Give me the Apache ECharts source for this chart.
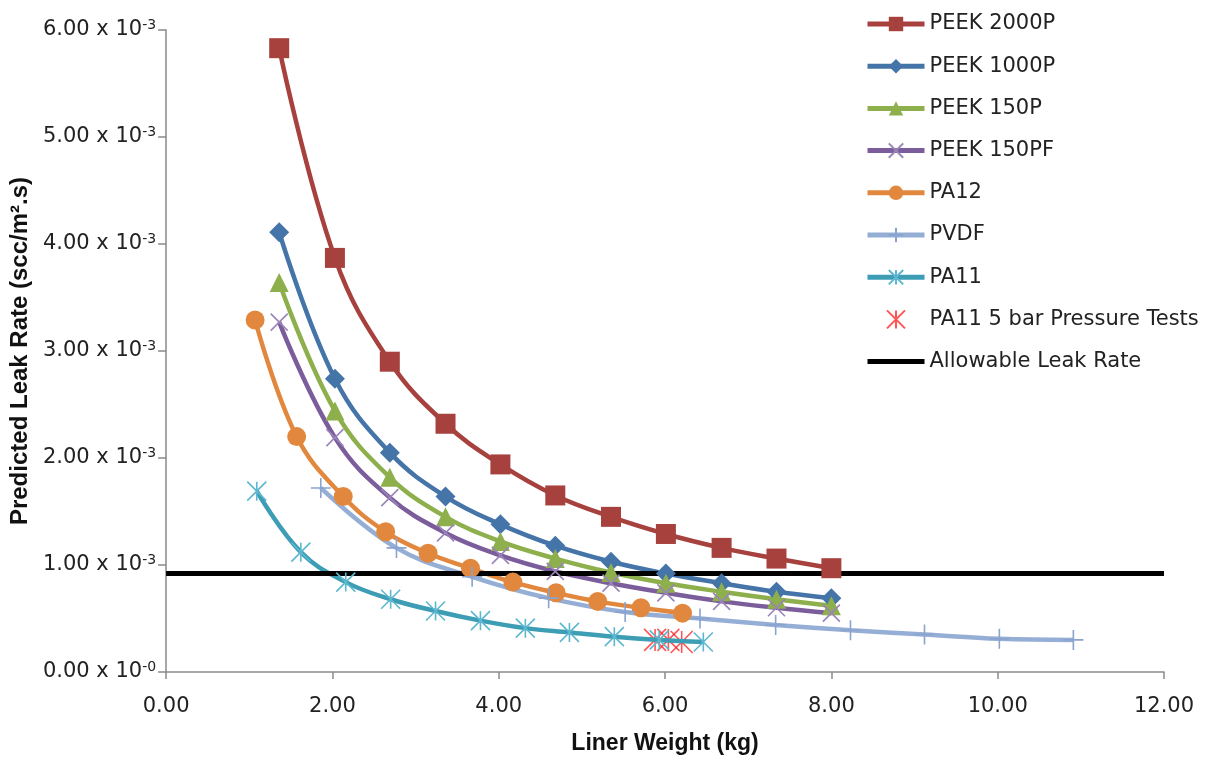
<!DOCTYPE html>
<html>
<head>
<meta charset="utf-8">
<title>Predicted Leak Rate vs Liner Weight</title>
<script src="https://cdn.jsdelivr.net/npm/echarts@6/dist/echarts.min.js"></script>
<style>
  html, body { margin: 0; padding: 0; background: #fff; }
  #chart { width: 1223px; height: 765px; }
</style>
</head>
<body>
<div id="chart"></div>
<script>
// leak rates in units of 10^-3 scc/m2.s, weights in kg
var peekWeight = [1.36, 2.03, 2.69, 3.36, 4.02, 4.68, 5.35, 6.01, 6.68, 7.34, 8.00];
var peek2000p = [5.83, 3.87, 2.90, 2.32, 1.94, 1.65, 1.45, 1.29, 1.16, 1.06, 0.97];
var peek1000p = [4.11, 2.74, 2.05, 1.64, 1.38, 1.18, 1.03, 0.92, 0.83, 0.75, 0.69];
var peek150p  = [3.64, 2.44, 1.82, 1.45, 1.22, 1.06, 0.93, 0.83, 0.75, 0.68, 0.62];
var peek150pf = [3.27, 2.19, 1.63, 1.30, 1.09, 0.94, 0.83, 0.74, 0.66, 0.60, 0.55];

var pa12Weight = [1.07, 1.57, 2.13, 2.64, 3.15, 3.66, 4.17, 4.69, 5.19, 5.71, 6.21];
var pa12 = [3.29, 2.20, 1.64, 1.31, 1.11, 0.97, 0.84, 0.74, 0.66, 0.60, 0.55];

var pvdfWeight = [1.86, 2.77, 3.68, 4.60, 5.52, 6.42, 7.33, 8.23, 9.12, 10.02, 10.91];
var pvdf = [1.72, 1.16, 0.89, 0.69, 0.56, 0.50, 0.44, 0.39, 0.35, 0.31, 0.30];

var pa11Weight = [1.09, 1.62, 2.16, 2.70, 3.24, 3.78, 4.32, 4.85, 5.39, 5.93, 6.46];
var pa11 = [1.69, 1.12, 0.84, 0.68, 0.57, 0.48, 0.41, 0.37, 0.33, 0.30, 0.28];

var testWeight = [5.88, 6.04, 6.20];
var testRate = [0.30, 0.30, 0.28];

var allowWeight = [0, 12];
var allowRate = [0.92, 0.92];

var FONT = '"DejaVu Sans", Verdana, sans-serif';
var TITLE_FONT = '"Liberation Sans Narrow", "Arial Narrow", "Liberation Sans", sans-serif';
var SYM_X = 'path://M0,0L20,20M20,0L0,20';
var SYM_PLUS = 'path://M10,0L10,20M0,10L20,10';
var SYM_STAR = 'path://M0,0L20,20M20,0L0,20M10,0L10,20';
var SYM_BAR = 'path://M0,0L57,0L57,5L0,5Z';

function pairs(xs, ys) {
  return xs.map(function (x, i) { return [x, ys[i]]; });
}

function curve(name, xs, ys, color, symbol, size, markColor) {
  var s = {
    name: name, type: 'line', smooth: 0.4,
    data: pairs(xs, ys),
    symbol: symbol, symbolSize: size, showAllSymbol: true,
    lineStyle: { color: color, width: 4.5 },
    itemStyle: { color: color }
  };
  // open path markers (x, +, *) are drawn with a stroke only
  if (markColor) {
    s.itemStyle = { color: 'rgba(0,0,0,0)', borderColor: markColor, borderWidth: 1.6 };
  }
  return s;
}

var chart = echarts.init(document.getElementById('chart'));

chart.setOption({
  animation: false,
  textStyle: { fontFamily: FONT },
  grid: { left: 162, right: 59, top: 30, bottom: 93 },
  legend: {
    orient: 'vertical', left: 860, top: 7,
    itemWidth: 57, itemHeight: 18, itemGap: 18.2,
    textStyle: { fontSize: 21, color: '#222', fontFamily: FONT, lineHeight: 24 },
    lineStyle: { width: 5 },
    data: ['PEEK 2000P', 'PEEK 1000P', 'PEEK 150P', 'PEEK 150PF', 'PA12', 'PVDF',
           'PA11', 'PA11 5 bar Pressure Tests',
           { name: 'Allowable Leak Rate', icon: SYM_BAR }]
  },
  xAxis: {
    type: 'value', min: 0, max: 12, interval: 2,
    name: 'Liner Weight (kg)', nameLocation: 'middle', nameGap: 60,
    nameTextStyle: { fontSize: 23, fontWeight: 'bold', color: '#111', fontFamily: TITLE_FONT },
    axisLine: { lineStyle: { color: '#8a8a8a', width: 1.5 } },
    axisTick: { show: true, length: 7, lineStyle: { color: '#8a8a8a', width: 1.5 } },
    splitLine: { show: false },
    axisLabel: {
      fontSize: 21, color: '#222', margin: 24, fontFamily: FONT,
      formatter: function (v) { return v.toFixed(2); }
    }
  },
  yAxis: {
    type: 'value', min: 0, max: 6, interval: 1,
    name: 'Predicted Leak Rate (scc/m\u00b2.s)', nameLocation: 'middle', nameGap: 132,
    nameTextStyle: { fontSize: 24, fontWeight: 'bold', color: '#111', fontFamily: TITLE_FONT },
    axisLine: { show: true, lineStyle: { color: '#8a8a8a', width: 1.5 } },
    axisTick: { show: true, length: 8, lineStyle: { color: '#8a8a8a', width: 1.5 } },
    splitLine: { show: false },
    axisLabel: {
      margin: 10, color: '#222',
      formatter: function (v) {
        return '{m|' + v.toFixed(2) + ' x 10}{e|' + (v === 0 ? '-0' : '-3') + '}';
      },
      rich: {
        m: { fontSize: 21, color: '#222', fontFamily: FONT },
        e: { fontSize: 14, color: '#222', fontFamily: FONT, verticalAlign: 'top', padding: [0, 0, 10, 0] }
      }
    }
  },
  series: [
    curve('PEEK 2000P', peekWeight, peek2000p, '#a6413e', 'rect', 20),
    curve('PEEK 1000P', peekWeight, peek1000p, '#4574a9', 'diamond', 20),
    curve('PEEK 150P', peekWeight, peek150p, '#8db04c', 'triangle', 19),
    curve('PEEK 150PF', peekWeight, peek150pf, '#7b5d9c', SYM_X, 17, '#9a84b9'),
    curve('PA12', pa12Weight, pa12, '#e2883e', 'circle', 19),
    curve('PVDF', pvdfWeight, pvdf, '#95aed5', SYM_PLUS, 20, '#8aa3cf'),
    curve('PA11', pa11Weight, pa11, '#3c9db4', SYM_STAR, 19, '#5cb7cf'),
    {
      name: 'PA11 5 bar Pressure Tests', type: 'scatter',
      data: pairs(testWeight, testRate),
      symbol: SYM_STAR, symbolSize: 22,
      itemStyle: { color: 'rgba(0,0,0,0)', borderColor: '#ff2a2a', borderWidth: 1.6 }
    },
    {
      name: 'Allowable Leak Rate', type: 'line',
      data: pairs(allowWeight, allowRate),
      symbol: 'none',
      lineStyle: { color: '#000', width: 5 },
      itemStyle: { color: '#000' }
    }
  ]
});

window.addEventListener('resize', function () { chart.resize(); });
</script>
</body>
</html>
